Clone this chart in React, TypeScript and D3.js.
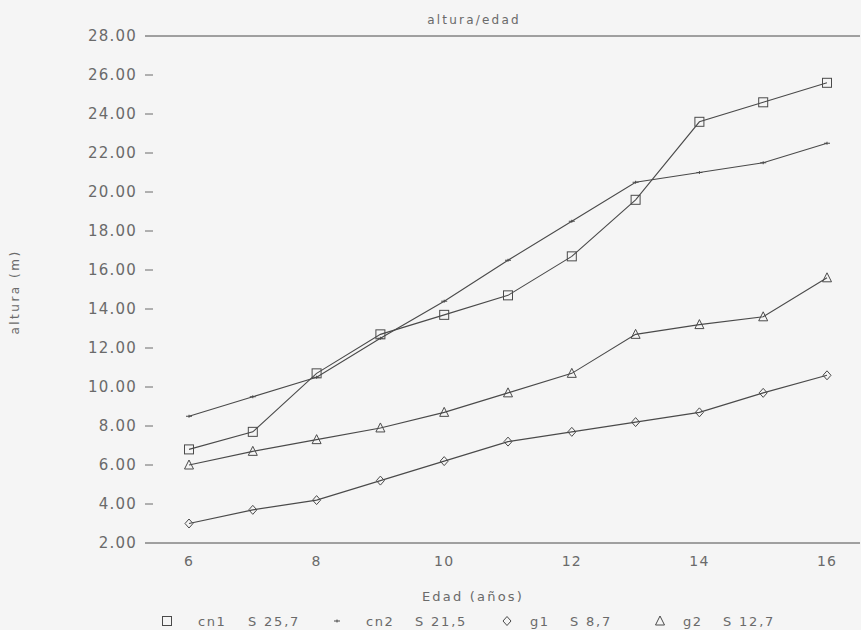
import React from "react";
import * as d3 from "d3";

const ages = [6, 7, 8, 9, 10, 11, 12, 13, 14, 15, 16];
const cn1 = [6.8, 7.7, 10.7, 12.7, 13.7, 14.7, 16.7, 19.6, 23.6, 24.6, 25.6];
const cn2 = [8.5, 9.5, 10.5, 12.5, 14.4, 16.5, 18.5, 20.5, 21.0, 21.5, 22.5];
const g1 = [3.0, 3.7, 4.2, 5.2, 6.2, 7.2, 7.7, 8.2, 8.7, 9.7, 10.6];
const g2 = [6.0, 6.7, 7.3, 7.9, 8.7, 9.7, 10.7, 12.7, 13.2, 13.6, 15.6];
const yTicks = [2, 4, 6, 8, 10, 12, 14, 16, 18, 20, 22, 24, 26, 28];
const xTicks = [6, 8, 10, 12, 14, 16];
const seriesNames = ["cn1", "cn2", "g1", "g2"];
const seriesStats = ["S 25,7", "S 21,5", "S 8,7", "S 12,7"];
const seriesMarkers = ["square", "plus", "diamond", "triangle"];
const title = "altura/edad";
const xLabel = "Edad (años)";
const yLabel = "altura (m)";

const W = 861;
const H = 630;
const LINE = "#4a4a4a";
const TEXT = "#6a6a6a";
const FONT = "'DejaVu Sans', sans-serif";

function Marker({ type, x, y }: { type: string; x: number; y: number }) {
  const s = 4.5;
  if (type === "square")
    return <rect x={x - s} y={y - s} width={2 * s} height={2 * s} fill="none" stroke={LINE} strokeWidth={1} />;
  if (type === "plus")
    return <path d={`M${x - 3},${y}H${x + 3}M${x},${y - 1.5}V${y + 1.5}`} stroke={LINE} strokeWidth={1} />;
  if (type === "diamond")
    return <path d={`M${x},${y - 4.5}L${x + 4},${y}L${x},${y + 4.5}L${x - 4},${y}Z`} fill="none" stroke={LINE} strokeWidth={1} />;
  return <path d={`M${x},${y - 5}L${x + 4.5},${y + 4}L${x - 4.5},${y + 4}Z`} fill="none" stroke={LINE} strokeWidth={1} />;
}

export default function App() {
  const x = d3.scaleLinear().domain([6, 16]).range([189, 827]);
  const y = d3.scaleLinear().domain([2, 28]).range([543, 36]);
  const data = [cn1, cn2, g1, g2];
  const line = d3
    .line<number>()
    .x((_, i) => x(ages[i]))
    .y((d) => y(d));

  const legendMarkX = [167, 337, 507, 660];
  const legendNameX = [198, 366, 530, 683];
  const legendStatX = [248, 415, 570, 723];

  return (
    <div style={{ position: "absolute", left: 0, top: 0 }}>
      <svg width={W} height={H} style={{ display: "block", background: "#f5f5f5" }}>
        <text x={474} y={20} dy="0.36em" textAnchor="middle" fontFamily={FONT} fontSize={12} fill={TEXT} letterSpacing={2.2}>
          {title}
        </text>
        <line x1={145} x2={860} y1={y(28)} y2={y(28)} stroke={LINE} strokeWidth={1} />
        <line x1={145} x2={860} y1={y(2)} y2={y(2)} stroke={LINE} strokeWidth={1} />
        {yTicks.map((t) => (
          <g key={t}>
            <text x={137} y={y(t)} dy="0.36em" textAnchor="end" fontFamily={FONT} fontSize={15} fill={TEXT} letterSpacing={1.2}>
              {t.toFixed(2)}
            </text>
            {t !== 28 && t !== 2 && <line x1={145} x2={153} y1={y(t)} y2={y(t)} stroke={TEXT} strokeWidth={1} />}
          </g>
        ))}
        {xTicks.map((t) => (
          <text key={t} x={x(t)} y={561} dy="0.36em" textAnchor="middle" fontFamily={FONT} fontSize={14} fill={TEXT} letterSpacing={1.2}>
            {t}
          </text>
        ))}
        <text x={473} y={596} dy="0.36em" textAnchor="middle" fontFamily={FONT} fontSize={13} fill={TEXT} letterSpacing={2.2}>
          {xLabel}
        </text>
        <text
          transform={`translate(15,292) rotate(-90)`}
          textAnchor="middle"
          dy="0.36em"
          fontFamily={FONT}
          fontSize={12}
          fill={TEXT}
          letterSpacing={2.5}
        >
          {yLabel}
        </text>
        {data.map((d, si) => (
          <g key={seriesNames[si]}>
            <path d={line(d) || ""} fill="none" stroke={LINE} strokeWidth={1.1} />
            {d.map((v, i) => (
              <Marker key={i} type={seriesMarkers[si]} x={x(ages[i])} y={y(v)} />
            ))}
          </g>
        ))}
        {seriesNames.map((name, i) => (
          <g key={name}>
            <Marker type={seriesMarkers[i]} x={legendMarkX[i]} y={621} />
            <text x={legendNameX[i]} y={621} dy="0.36em" fontFamily={FONT} fontSize={13} fill={TEXT} letterSpacing={1.5}>
              {name}
            </text>
            <text x={legendStatX[i]} y={621} dy="0.36em" fontFamily={FONT} fontSize={13} fill={TEXT} letterSpacing={1.8}>
              {seriesStats[i]}
            </text>
          </g>
        ))}
      </svg>
    </div>
  );
}
